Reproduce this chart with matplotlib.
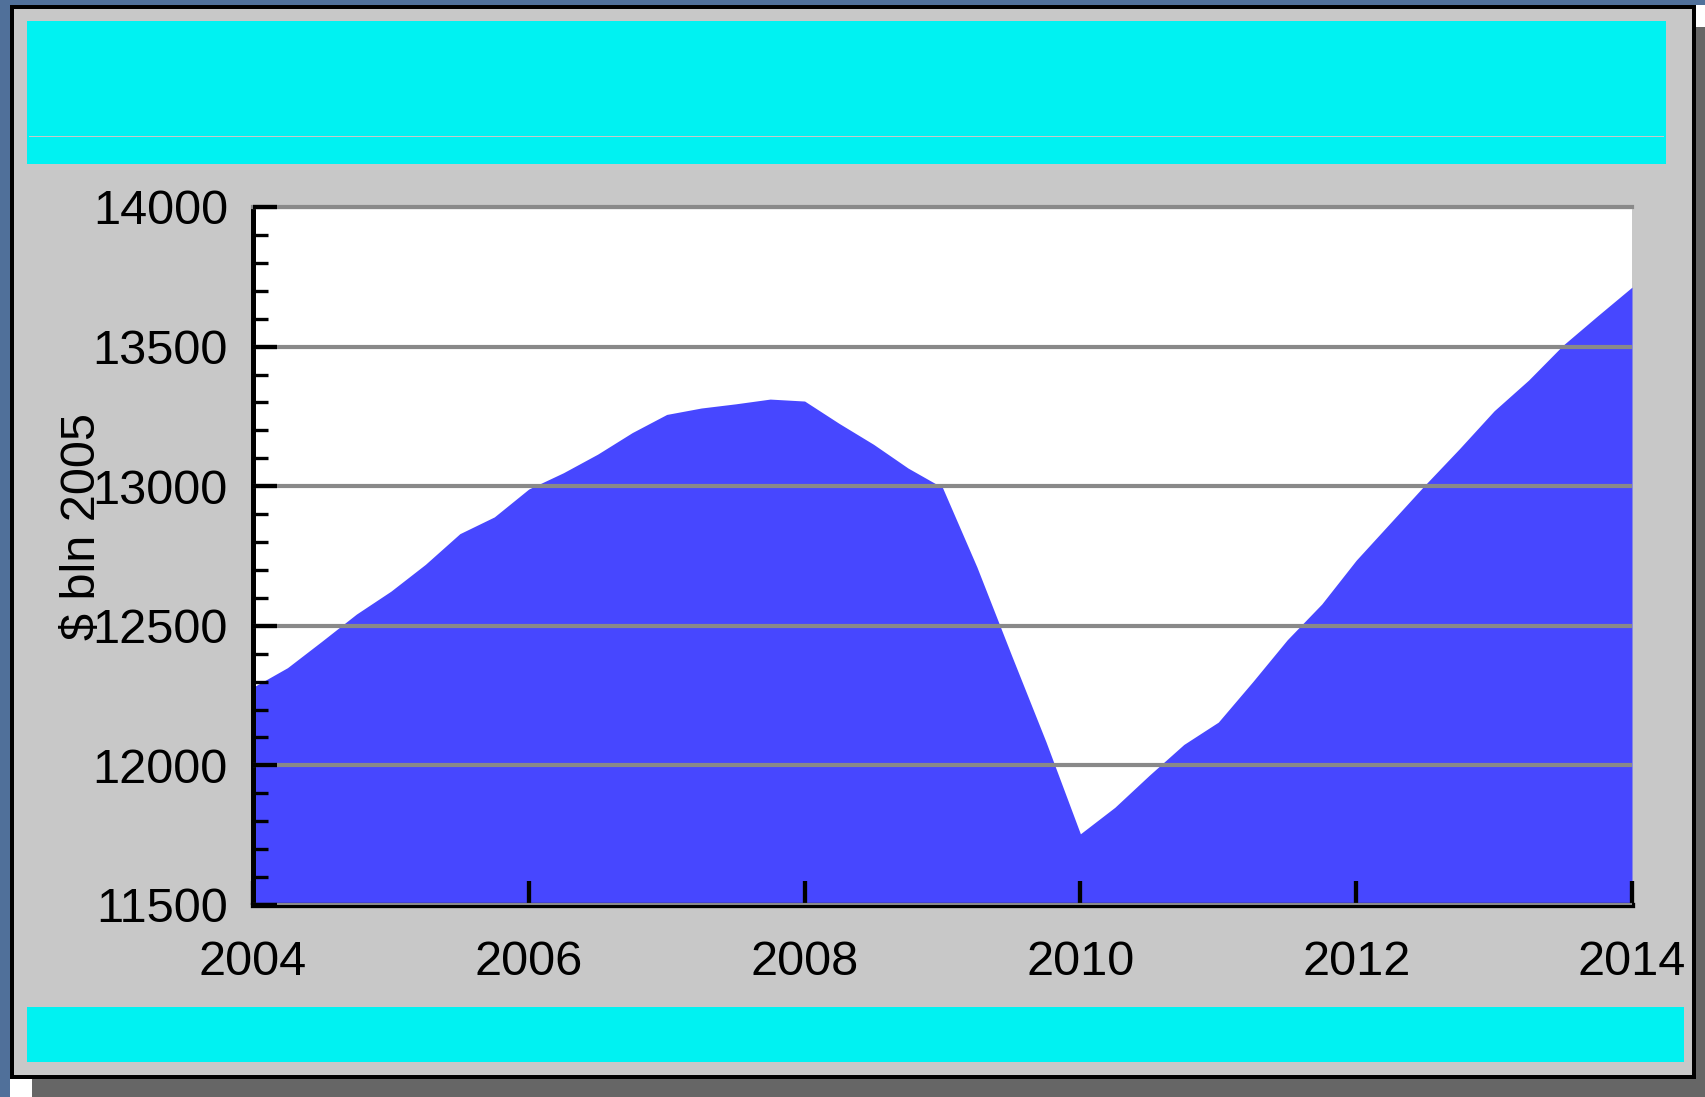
import matplotlib.pyplot as plt
from matplotlib.patches import Rectangle
from matplotlib.ticker import MultipleLocator

plt.rcParams['font.family'] = ['Liberation Sans', 'DejaVu Sans']

# quarterly points
quarters = [2004.00, 2004.25, 2004.50, 2004.75,
            2005.00, 2005.25, 2005.50, 2005.75,
            2006.00, 2006.25, 2006.50, 2006.75,
            2007.00, 2007.25, 2007.50, 2007.75,
            2008.00, 2008.25, 2008.50, 2008.75,
            2009.00, 2009.25, 2009.50, 2009.75,
            2010.00, 2010.25, 2010.50, 2010.75,
            2011.00, 2011.25, 2011.50, 2011.75,
            2012.00, 2012.25, 2012.50, 2012.75,
            2013.00, 2013.25, 2013.50, 2013.75,
            2014.00]
gdp = [12280, 12350, 12445, 12542,
       12624, 12720, 12830, 12890,
       12990, 13048, 13115, 13192,
       13257, 13280, 13295, 13312,
       13305, 13225, 13150, 13065,
       12995, 12710, 12395, 12085,
       11755, 11850, 11965, 12075,
       12155, 12300, 12450, 12578,
       12735, 12870, 13005, 13135,
       13270, 13380, 13505, 13610,
       13713]

year_ticks = [2004, 2006, 2008, 2010, 2012, 2014]
y_ticks = [11500, 12000, 12500, 13000, 13500, 14000]

W, H = 1705, 1097
fig = plt.figure(figsize=(W / 100, H / 100), dpi=100)
fig.patch.set_facecolor('#50709a')

# frame / panel drawn in pixel coords
bg = fig.add_axes([0, 0, 1, 1], zorder=0)
bg.set_xlim(0, W)
bg.set_ylim(H, 0)
bg.axis('off')

def box(x0, y0, x1, y1, c):
    bg.add_patch(Rectangle((x0, y0), x1 - x0, y1 - y0, facecolor=c, edgecolor='none'))

box(32, 27, W, H, '#666666')
box(10, 1079, 32, H, 'white')
box(1696, 5, W, 27, 'white')
box(10, 5, 1696, 1079, 'black')
box(14, 9, 1692, 1075, '#c8c8c8')
box(27, 21, 1666, 164, '#00f2f2')
box(29, 135.5, 1664, 137, '#c8c8c8')
box(27, 1007, 1684, 1062, '#00f2f2')

ax = fig.add_axes([253 / W, 1 - 905 / H, (1632 - 253) / W, (905 - 207) / H], zorder=1)
ax.set_facecolor('white')
ax.fill_between(quarters, gdp, 11500, color='#4747ff', linewidth=0)

ax.set_xlim(2004, 2014)
ax.set_ylim(11500, 14000)
ax.set_xticks(year_ticks)
ax.set_yticks(y_ticks)
ax.yaxis.set_minor_locator(MultipleLocator(100))

ax.set_axisbelow(False)
ax.grid(axis='y', color='#898989', linewidth=3)

ax.spines['right'].set_visible(False)
ax.spines['top'].set_color('#898989')
ax.spines['top'].set_linewidth(3)
ax.spines['left'].set_linewidth(3.6)
ax.spines['bottom'].set_linewidth(3.8)

ax.tick_params(axis='both', which='major', direction='in', length=17, width=3.1,
               color='black', labelsize=35, labelcolor='black')
ax.tick_params(axis='y', which='minor', direction='in', length=11, width=2.4, color='black')
ax.tick_params(axis='y', which='major', pad=18)
ax.tick_params(axis='x', which='major', pad=25)

fig.text(82 / W, 1 - 526 / H, '$ bln 2005', rotation=90, ha='center', va='center',
         fontsize=35, color='black')

fig.savefig('out.png', dpi=100, facecolor=fig.get_facecolor())
